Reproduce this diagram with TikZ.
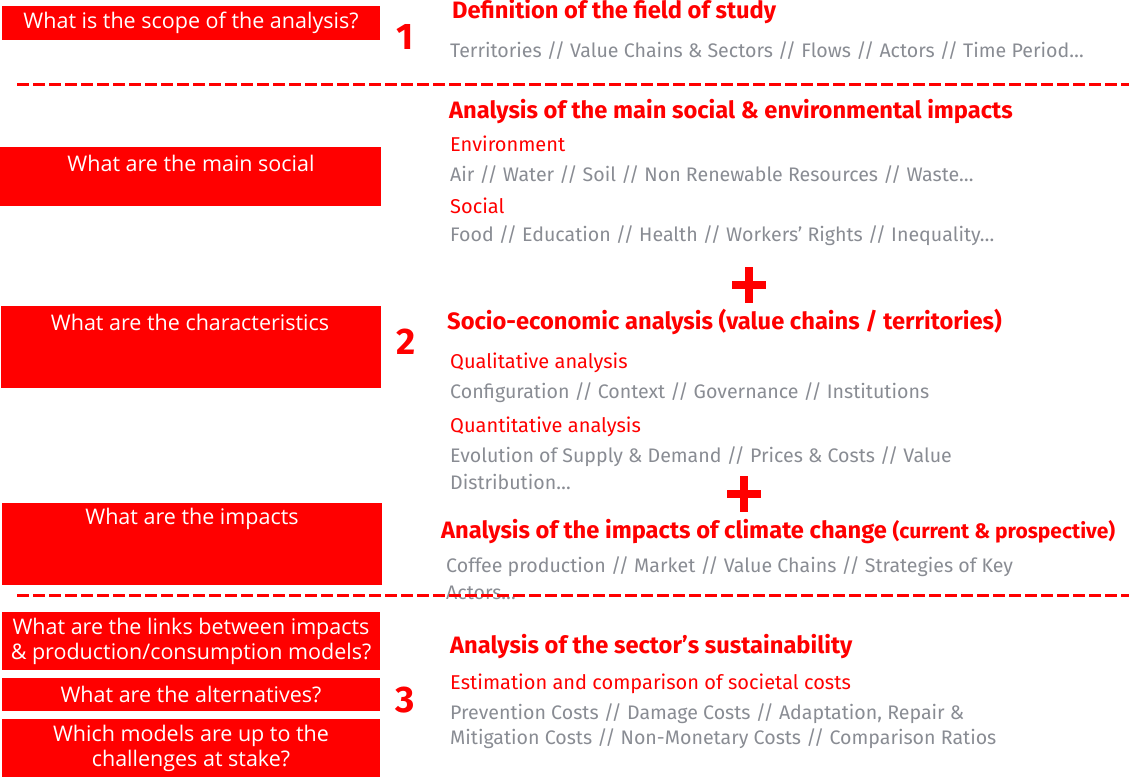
\documentclass[tikz,border=0pt]{standalone}
\usepackage{fontspec}
\setmainfont{Fira Sans}
\newfontfamily\boxfont{Open Sans}
\definecolor{qred}{RGB}{255,0,0}
\definecolor{tgray}{RGB}{137,140,147}
\begin{document}
\begin{tikzpicture}[x=1pt,y=-1pt,
  qbox/.style={fill=qred, draw=none, inner sep=0pt},
  qtext/.style={text=white, inner sep=0pt, font=\boxfont\fontsize{21.5}{25}\selectfont, align=center},
  head/.style={anchor=west, inner sep=0pt, text=qred, font=\bfseries\fontsize{23.7}{28}\selectfont},
  sub/.style={anchor=west, inner sep=0pt, text=qred, font=\fontsize{20}{24}\selectfont},
  body/.style={anchor=west, inner sep=0pt, text=tgray, font=\fontsize{19.6}{24}\selectfont},
  num/.style={text=qred, inner sep=0pt, font=\bfseries\fontsize{37}{40}\selectfont},
  bar/.style={fill=qred, draw=none, inner sep=0pt},
  sepline/.style={draw=qred, line width=3pt, dash pattern=on 12pt off 4pt},
]
\useasboundingbox (0,0) rectangle (1129,778);

% question boxes
\node[qbox, minimum width=378pt, minimum height=34pt] (q1) at (191,23) {};
\node[qtext] (q1t) at (q1.center) {What is the scope of the analysis?};
\node[qbox, minimum width=381pt, minimum height=59pt] (q2) at (190.5,176.5) {};
\node[qtext] (q2t) at (191,163) {What are the main social};
\node[qbox, minimum width=380pt, minimum height=82pt] (q3) at (191,347) {};
\node[qtext] (q3t) at (190,322) {What are the characteristics};
\node[qbox, minimum width=380pt, minimum height=82pt] (q4) at (192,544) {};
\node[qtext] (q4t) at (192,519) {What are the impacts};
\node[qbox, minimum width=378pt, minimum height=58pt] (q5) at (191,641) {};
\node[qtext] (q5t) at (q5.center) {What are the links between impacts\\ \& production/consumption models?};
\node[qbox, minimum width=378pt, minimum height=33pt] (q6) at (191,694.5) {};
\node[qtext] (q6t) at (q6.center) {What are the alternatives?};
\node[qbox, minimum width=378pt, minimum height=58pt] (q7) at (191,748) {};
\node[qtext] (q7t) at (q7.center) {Which models are up to the\\ challenges at stake?};

% numbers
\node[num] (n1) at (405,37) {1};
\node[num] (n2) at (406,342) {2};
\node[num] (n3) at (405,700) {3};

% section 1
\node[head] (h1) at (452,12) {Definition of the field of study};
\node[body] (b1) at (450,51) {Territories // Value Chains \& Sectors // Flows // Actors // Time Period…};

% section 2
\node[head] (h2) at (449,112) {Analysis of the main social \& environmental impacts};
\node[sub] (s21) at (450,144) {Environment};
\node[body] (b21) at (450,175) {Air // Water // Soil // Non Renewable Resources // Waste…};
\node[sub] (s22) at (450,206) {Social};
\node[body] (b22) at (450,236) {Food // Education // Health // Workers’ Rights // Inequality…};

\node[bar, minimum width=34pt, minimum height=8pt] (p1h) at (749,285) {};
\node[bar, minimum width=8pt, minimum height=36pt] (p1v) at (749,285) {};

\node[head] (h3) at (447,322) {Socio-economic analysis (value chains / territories)};
\node[sub] (s31) at (450,363) {Qualitative analysis};
\node[body] (b31) at (450,393) {Configuration // Context // Governance // Institutions};
\node[sub] (s32) at (450,427) {Quantitative analysis};
\node[body] (b32) at (450,457) {Evolution of Supply \& Demand // Prices \& Costs // Value};
\node[body] (b33) at (450,482) {Distribution…};

\node[bar, minimum width=34pt, minimum height=8pt] (p2h) at (744,494) {};
\node[bar, minimum width=8pt, minimum height=36pt] (p2v) at (744,494) {};

\node[head] (h4) at (441,532) {Analysis of the impacts of climate change {\fontsize{21}{24}\selectfont(current \& prospective)}};
\node[body] (b41) at (446,567) {Coffee production // Market // Value Chains // Strategies of Key};
\node[body] (b42) at (446,593) {Actors…};

% section 3
\node[head] (h5) at (450,647) {Analysis of the sector’s sustainability};
\node[sub] (s51) at (450,684) {Estimation and comparison of societal costs};
\node[body] (b51) at (450,714) {Prevention Costs // Damage Costs // Adaptation, Repair \&};
\node[body] (b52) at (450,739) {Mitigation Costs // Non-Monetary Costs // Comparison Ratios};

% separators
\coordinate (s1a) at (17,85);
\coordinate (s1b) at (1129,85);
\coordinate (s2a) at (17,595);
\coordinate (s2b) at (1129,595);
\draw[sepline] (s1a) -- (s1b);
\draw[sepline] (s2a) -- (s2b);
\end{tikzpicture}
\end{document}
